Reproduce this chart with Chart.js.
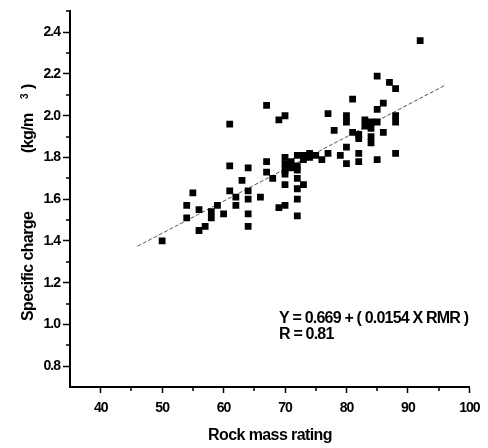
<!DOCTYPE html>
<html>
<head>
<meta charset="utf-8">
<script src="https://cdn.jsdelivr.net/npm/chart.js@4"></script>
<style>
  html, body { margin: 0; padding: 0; background: #fff; }
</style>
</head>
<body>
<canvas id="chart" width="488" height="448"></canvas>
<script>
// measured points: rock mass rating vs specific charge (kg/m3)
const rmr = [50, 54, 54, 55, 56, 56, 57, 58, 58, 59, 60,
  61, 61, 61, 62, 62, 63, 64, 64, 64, 64, 64, 66, 67, 67, 67, 68, 69, 69,
  70, 70, 70, 70, 70, 70, 70, 71, 71, 72, 72, 72, 72, 72, 72, 72,
  73, 73, 73, 74, 74, 75, 76, 77, 77, 78, 79, 80, 80, 80, 80, 81, 81,
  82, 82, 82, 82, 83, 83, 84, 84, 84, 84, 85, 85, 85, 85, 86, 86, 87,
  88, 88, 88, 88, 92];
const charge = [1.40, 1.57, 1.51, 1.63, 1.55, 1.45, 1.47, 1.54, 1.51, 1.57, 1.53,
  1.96, 1.76, 1.64, 1.61, 1.57, 1.69, 1.75, 1.64, 1.60, 1.53, 1.47, 1.61, 2.05, 1.78, 1.73, 1.70, 1.98, 1.56,
  2.00, 1.80, 1.77, 1.74, 1.72, 1.67, 1.57, 1.78, 1.75, 1.81, 1.76, 1.74, 1.70, 1.65, 1.60, 1.52,
  1.81, 1.79, 1.67, 1.82, 1.80, 1.81, 1.79, 2.01, 1.82, 1.93, 1.81, 2.00, 1.97, 1.85, 1.77, 2.08, 1.92,
  1.91, 1.89, 1.82, 1.78, 1.98, 1.95, 1.97, 1.94, 1.90, 1.87, 2.19, 2.03, 1.97, 1.79, 2.06, 1.92, 2.16,
  2.13, 2.00, 1.97, 1.82, 2.36];

// regression line as drawn (end points)
const fitX = [46, 96];
const fitY = [1.375, 2.145];

const xTicks = [40, 50, 60, 70, 80, 90, 100];
const xMinor = [45, 55, 65, 75, 85, 95];
const yTicks = [0.8, 1.0, 1.2, 1.4, 1.6, 1.8, 2.0, 2.2, 2.4];
const yMinor = [0.9, 1.1, 1.3, 1.5, 1.7, 1.9, 2.1, 2.3, 2.5];

const eqLine = 'Y = 0.669 + ( 0.0154 X RMR )';
const rLine = 'R = 0.81';

const FONT = '"Liberation Sans", Arial, sans-serif';

const extras = {
  id: 'extras',
  beforeDraw(chart) {
    chart.ctx.letterSpacing = '-1px';
  },
  afterDraw(chart) {
    const ctx = chart.ctx;
    const xs = chart.scales.x, ys = chart.scales.y;
    ctx.save();
    ctx.strokeStyle = '#000';
    ctx.lineWidth = 1.5;
    ctx.beginPath();
    xMinor.forEach(v => {
      const px = Math.round(xs.getPixelForValue(v));
      ctx.moveTo(px, xs.top);
      ctx.lineTo(px, xs.top + 4);
    });
    yMinor.forEach(v => {
      const py = Math.round(ys.getPixelForValue(v));
      ctx.moveTo(ys.right, py);
      ctx.lineTo(ys.right - 4, py);
    });
    ctx.stroke();

    ctx.fillStyle = '#000';
    ctx.textBaseline = 'alphabetic';

    // x title
    ctx.font = 'bold 16px ' + FONT;
    ctx.letterSpacing = '-0.6px';
    ctx.textAlign = 'center';
    ctx.fillText('Rock mass rating', 270, 440);

    // y title
    ctx.save();
    ctx.translate(33, 0);
    ctx.rotate(-Math.PI / 2);
    ctx.textAlign = 'left';
    ctx.fillText('Specific charge', -321, 0);
    ctx.fillText('(kg/m', -153, 0);
    ctx.font = 'bold 10px ' + FONT;
    ctx.fillText('3', -99, -5);
    ctx.font = 'bold 16px ' + FONT;
    ctx.fillText(')', -89, 0);
    ctx.restore();

    // equation
    ctx.font = 'bold 16px ' + FONT;
    ctx.letterSpacing = '-0.8px';
    ctx.textAlign = 'left';
    ctx.fillText(eqLine, 279, 323);
    ctx.fillText(rLine, 279, 339);
    ctx.restore();
  }
};

new Chart(document.getElementById('chart'), {
  data: {
    datasets: [{
      type: 'scatter',
      data: rmr.map((v, i) => ({ x: v, y: charge[i] })),
      pointStyle: 'rect',
      pointRadius: 4.8,
      pointBorderWidth: 0,
      backgroundColor: '#000',
      borderColor: '#000'
    }, {
      type: 'line',
      data: fitX.map((v, i) => ({ x: v, y: fitY[i] })),
      borderColor: '#555',
      borderWidth: 1,
      borderDash: [4, 2],
      pointRadius: 0,
      fill: false
    }]
  },
  options: {
    responsive: false,
    animation: false,
    layout: { padding: { top: 10, right: 18, left: 0, bottom: 0 } },
    plugins: { legend: { display: false }, tooltip: { enabled: false } },
    scales: {
      x: {
        type: 'linear',
        min: 35, max: 100,
        afterBuildTicks: s => { s.ticks = xTicks.map(v => ({ value: v })); },
        afterFit: s => { s.height = 61; },
        border: { color: '#000', width: 2 },
        grid: { drawOnChartArea: false, tickLength: 6, tickColor: '#000', tickWidth: 1.5 },
        ticks: { color: '#000', padding: 7, maxRotation: 0, font: { family: FONT, size: 14, weight: 'bold' } }
      },
      y: {
        type: 'linear',
        min: 0.7, max: 2.5,
        afterBuildTicks: s => { s.ticks = yTicks.map(v => ({ value: v })); },
        afterFit: s => { s.width = 70; },
        border: { color: '#000', width: 2 },
        grid: { drawOnChartArea: false, tickLength: 7, tickColor: '#000', tickWidth: 1.5 },
        ticks: { color: '#000', padding: 3, callback: v => v.toFixed(1), font: { family: FONT, size: 14, weight: 'bold' } }
      }
    }
  },
  plugins: [extras]
});
</script>
</body>
</html>
